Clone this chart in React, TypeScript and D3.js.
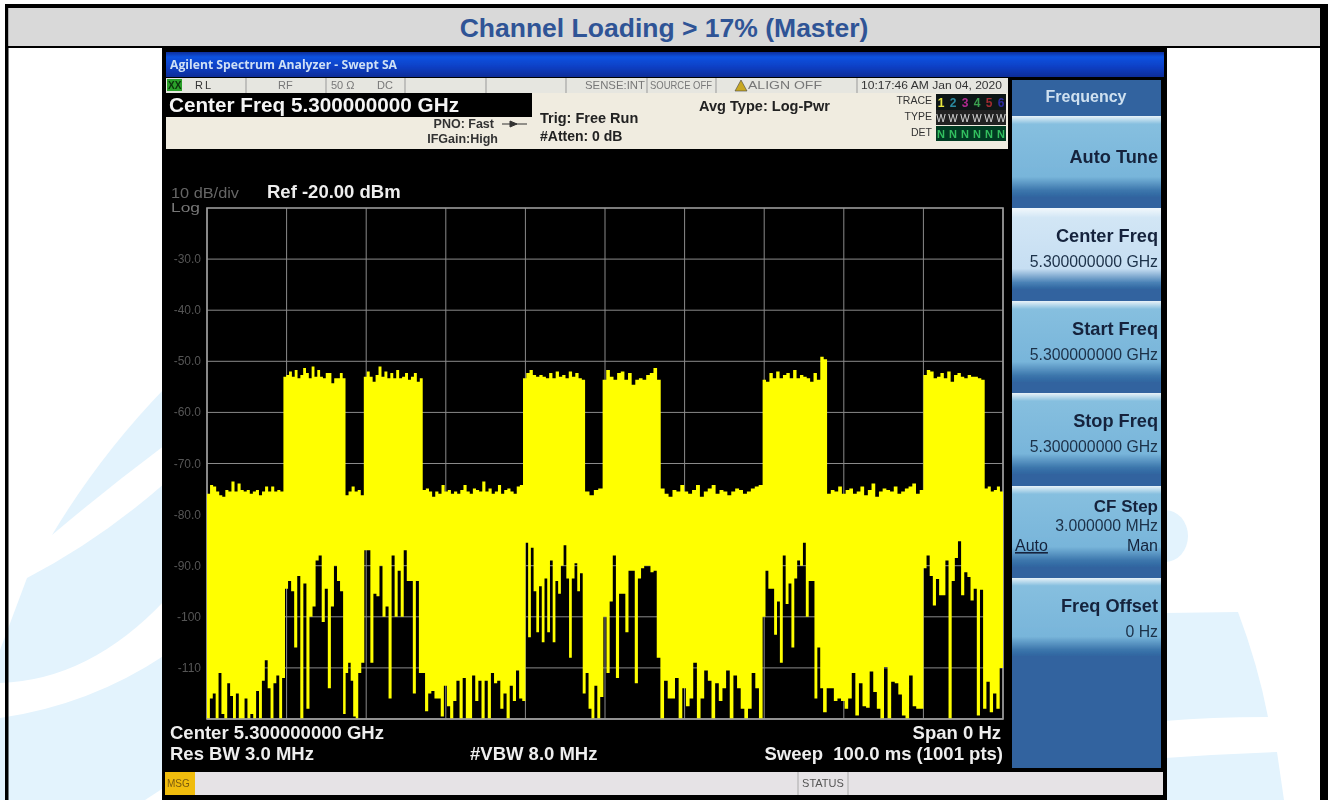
import React from "react";
import * as d3 from "d3";

const titleText = "Channel Loading > 17% (Master)";
const yTicks = [-30, -40, -50, -60, -70, -80, -90, -100, -110];
const yTickLabels = ["-30.0", "-40.0", "-50.0", "-60.0", "-70.0", "-80.0", "-90.0", "-100", "-110"];
const xGrid = [0, 10, 20, 30, 40, 50, 60, 70, 80, 90, 100];

// upper edge of the trace, dBm
const topGap0 = [-75.9, -74.2, -74.5, -75.5, -76.2, -76.5, -75.2, -75.5, -73.5, -75.5, -73.9, -75.2, -75.5, -75.2, -75.9, -75.5, -75.2, -76.2, -75.5, -74.5, -75.5, -74.5, -75.5, -75.2, -75.5];
const topBurst1 = [-53, -52.7, -52, -53, -51.7, -53.3, -52.7, -51.3, -52.3, -53.3, -51, -53, -51.7, -53, -53.3, -52.3, -52.3, -54.3, -53.3, -53.3, -52.3, -53.3];
const topGap1 = [-76.2, -75.5, -74.5, -75.5, -75.2, -76.2];
const topBurst2 = [-53, -52, -53, -54, -52.7, -51, -53, -52, -53.3, -52.3, -53.3, -51.7, -53.3, -53, -52.3, -53.6, -53, -52.3, -54, -53.3];
const topGap2 = [-75.2, -74.9, -75.5, -76.5, -75.5, -75.9, -74.2, -75.5, -75.2, -75.9, -75.5, -75.9, -75.2, -74.2, -75.5, -75.9, -74.9, -75.2, -75.5, -73.5, -75.5, -74.9, -75.9, -75.5, -74.2, -75.9, -75.2, -74.9, -75.5, -75.9, -74.5, -74.2];
const topBurst3 = [-53.3, -52.3, -51.7, -52.7, -53, -52.7, -53, -53.3, -52.3, -53.3, -52, -53, -52.7, -53.3, -52, -53, -52.3, -53.3, -53.6];
const topGap3 = [-75.5, -76.2, -75.2, -74.9];
const topBurst4 = [-53.6, -51.7, -53, -53.6, -52.3, -52, -53.6, -52.3, -54.6, -53.6, -53.3, -53.6, -52.7, -52.3, -51.3, -53.6];
const topGap4 = [-74.9, -75.9, -76.5, -75.2, -75.5, -74.2, -75.5, -75.9, -75.2, -74.2, -76.5, -75.5, -74.9, -74.2, -75.9, -75.2, -75.5, -76.2, -75.5, -74.9, -75.2, -75.9, -75.5, -74.9, -74.5, -74.2];
const topBurst5 = [-53.6, -54, -52.3, -53.3, -52, -53.3, -52.7, -52.3, -53.3, -51.7, -53.3, -52.7, -53, -53.3, -54, -52.3, -53.6, -49.1, -49.6];
const topGap5 = [-75.9, -75.2, -75.5, -74.5, -75.9, -75.2, -74.9, -75.9, -75.5, -74.5, -76.2, -75.2, -73.9, -76.5, -75.5, -74.9, -75.2, -75.5, -74.5, -75.9, -75.5, -74.9, -74.5, -73.9, -75.9, -75.2];
const topBurst6 = [-52.7, -51.7, -52, -53.3, -53, -52.3, -53.3, -52, -54, -52.7, -52.3, -53, -53.3, -52.7, -53, -53, -53.3, -53.6];
const topGap6 = [-74.9, -74.5, -75.5, -75.2, -74.5, -75.5];

// lower edge of the trace, dBm
const lowGap0 = [-120, -116, -115, -120, -111, -119, -120, -113, -115.5, -120, -115, -120, -120, -116, -120, -119, -120, -114.5, -120, -112.5, -108.5, -114, -120, -113, -111.5, -120, -112];
const lowBurst1 = [-94.5, -93, -95, -106, -92, -120, -93.5, -118, -100, -98, -89, -88, -101, -94.5, -114, -98, -90, -93, -95];
const lowGap1 = [-119, -111, -109, -112.5, -119.5, -120];
const lowBurst2 = [-111, -109, -87, -87, -109, -95.5, -96, -90, -100, -98, -116, -88, -100, -91, -100, -87, -93, -93, -115, -93, -111];
const lowGap2 = [-111, -118.5, -115, -114.5, -116, -116, -119.5, -113.5, -117.5, -120, -116.5, -112.5, -120, -112, -120, -120, -111.5, -116.5, -112.5, -120, -112.5, -120, -111, -113, -112.5, -118, -115, -120, -113.5, -116.5, -110.5, -116, -116.5];
const lowBurst3 = [-85.5, -104, -86.5, -95, -103, -94, -105, -92.5, -103, -89, -105, -93, -95.5, -90, -86, -92.5, -108, -92.5, -89.5, -95, -91.5];
const lowGap3 = [-115, -111, -118, -120, -113.5, -120];
const lowBurst4 = [-115.7, -100, -111, -97, -88, -112, -95.5, -95.5, -103, -91, -91, -113, -92.5, -90.5, -90, -90, -91.3, -91];
const lowGap4 = [-108, -120, -112.5, -116, -116, -112, -120, -114, -117.5, -116, -109, -120, -116, -110.5, -112.5, -120, -113, -116.5, -114, -110.5, -120, -111.5, -114, -118, -120, -118, -111, -114, -120];
const lowBurst5 = [-100, -91, -94.5, -94.5, -103.5, -97, -109, -88, -97.5, -93.5, -106, -92.5, -89, -90, -85.5, -100, -93, -93, -116, -106, -114];
const lowGap5 = [-118.7, -114, -114, -116.5, -116, -116.5, -118, -116, -111, -119.3, -113, -117.5, -117.8, -110.7, -114.7, -118, -120, -109.8, -120, -112.7, -113, -115.2, -119.3, -120, -111.5, -117.5, -118, -118];
const lowBurst6 = [-90.5, -88, -92, -97.8, -92.6, -95.8, -95.8, -89, -120, -93, -88.5, -85.2, -95.8, -91.3, -92.2, -96.8, -94.5, -119.3, -94.7];
const lowGap6 = [-118, -112.7, -118.7, -115, -118, -110];

const topSegments: [number, number, number[]][] = [
  [0, 9.6, topGap0], [9.6, 17.4, topBurst1], [17.4, 19.7, topGap1], [19.7, 27.1, topBurst2],
  [27.1, 39.7, topGap2], [39.7, 47.5, topBurst3], [47.5, 49.7, topGap3], [49.7, 57.0, topBurst4],
  [57.0, 69.8, topGap4], [69.8, 77.9, topBurst5], [77.9, 90, topGap5], [90, 97.7, topBurst6], [97.7, 100, topGap6],
];
const lowSegments: [number, number, number[]][] = [
  [0, 9.8, lowGap0], [9.8, 17.1, lowBurst1], [17.1, 19, lowGap1], [19, 27, lowBurst2],
  [27, 40, lowGap2], [40, 47.2, lowBurst3], [47.2, 49.4, lowGap3], [49.4, 56.5, lowBurst4],
  [56.5, 69.8, lowGap4], [69.8, 77.4, lowBurst5], [77.4, 90, lowGap5], [90, 97.5, lowBurst6], [97.5, 100, lowGap6],
];

const softKeys = [
  { label: "Auto Tune", value: "", selected: false },
  { label: "Center Freq", value: "5.300000000 GHz", selected: true },
  { label: "Start Freq", value: "5.300000000 GHz", selected: false },
  { label: "Stop Freq", value: "5.300000000 GHz", selected: false },
  { label: "CF Step", value: "3.000000 MHz", selected: false },
  { label: "Freq Offset", value: "0 Hz", selected: false },
];
const traceDigits = ["1", "2", "3", "4", "5", "6"];
const traceColors = ["#e8e840", "#2a8aa0", "#b02a90", "#3aa050", "#a02a30", "#2a2aa0"];

const expand = (segs: [number, number, number[]][]) => {
  const t: number[] = [];
  const v: number[] = [];
  segs.forEach(([a, b, vals]) => {
    vals.forEach((d, i) => {
      t.push(a + ((b - a) * i) / vals.length);
      v.push(d);
    });
  });
  return { t, v };
};

const x = d3.scaleLinear().domain([0, 100]).range([207, 1003]);
const y = d3.scaleLinear().domain([-20, -120]).range([208, 719]);

const topT = expand(topSegments);
const lowT = expand(lowSegments);
const allT = Array.from(new Set([...topT.t, ...lowT.t, 100])).sort((a, b) => a - b);
const lookup = (s: { t: number[]; v: number[] }, t: number) =>
  s.v[Math.min(s.v.length - 1, Math.max(0, d3.bisectRight(s.t, t + 1e-9) - 1))];
const tracePath = d3
  .area<number>()
  .x((t) => x(t))
  .y1((t) => y(lookup(topT, t)))
  .y0((t) => y(lookup(lowT, t)))
  .curve(d3.curveStepAfter)(allT) as string;

const SANS = "'Liberation Sans', Arial, sans-serif";

export default function App() {
  const keyTops = [116, 208, 301, 393, 486, 578];
  return (
    <svg width={1328} height={800} style={{ position: "fixed", left: 0, top: 0 }} fontFamily={SANS}>
      <defs>
        <linearGradient id="bar" x1="0" y1="0" x2="0" y2="1">
          <stop offset="0" stopColor="#0c2f9c" />
          <stop offset="0.2" stopColor="#0d52e0" />
          <stop offset="0.6" stopColor="#0a3fc4" />
          <stop offset="1" stopColor="#0a2c98" />
        </linearGradient>
        <linearGradient id="key" x1="0" y1="0" x2="0" y2="1">
          <stop offset="0" stopColor="#e8f2f8" />
          <stop offset="0.1" stopColor="#86bfdf" />
          <stop offset="0.75" stopColor="#78b5da" />
          <stop offset="0.92" stopColor="#3c76ac" />
          <stop offset="1" stopColor="#2f65a0" />
        </linearGradient>
        <linearGradient id="keySel" x1="0" y1="0" x2="0" y2="1">
          <stop offset="0" stopColor="#f2f8fc" />
          <stop offset="0.12" stopColor="#d2e6f5" />
          <stop offset="0.75" stopColor="#c6def2" />
          <stop offset="0.92" stopColor="#4a82b6" />
          <stop offset="1" stopColor="#2f65a0" />
        </linearGradient>
        <filter id="soft" x="-1%" y="-1%" width="102%" height="102%">
          <feGaussianBlur stdDeviation="0.55" />
        </filter>
      </defs>

      <rect width={1328} height={800} fill="#fff" />
      {/* background watermark */}
      <g fill="#e3f3fd">
        <path d="M52,535 Q100,455 165,388 L165,445 Q105,490 52,535Z" />
        <path d="M27,578 Q100,540 165,483 L165,600 Q90,680 0,683 L0,650Z" />
        <path d="M0,718 Q90,705 165,655 L165,787 L145,800 L0,800Z" />
        <path d="M1165,510 A23,26 0 0 1 1165,562Z" />
        <path d="M1165,613 L1238,612 Q1258,665 1268,717 Q1210,717 1165,721Z" />
        <path d="M1165,758 Q1220,754 1277,752 L1284,800 L1165,800Z" />
      </g>

      {/* page frame and title */}
      <rect x={5} y={4} width={1323} height={4} fill="#000" />
      <rect x={5} y={4} width={3.5} height={796} fill="#000" />
      <rect x={1320} y={4} width={8} height={796} fill="#000" />
      <rect x={8.5} y={8} width={1311.5} height={38} fill="#d9d9d9" />
      <rect x={5} y={46} width={1323} height={2} fill="#000" />
      <text x={664} y={37} textAnchor="middle" fontSize={26.5} fontWeight="bold" fill="#2f5496">{titleText}</text>

      {/* instrument screenshot */}
      <g filter="url(#soft)">
        <rect x={162} y={48} width={1005} height={752} fill="#000" />
        <rect x={166} y={52} width={998} height={25} fill="url(#bar)" />
        <text x={170} y={69} fontSize={12} fontWeight="bold" fill="#cfe0f5" fontFamily="'Open Sans', sans-serif" textLength={227} lengthAdjust="spacingAndGlyphs">Agilent Spectrum Analyzer - Swept SA</text>

        {/* status row */}
        <rect x={166} y={78} width={842} height={15} fill="#e6e6e0" />
        <rect x={167} y={79} width={15} height={12} fill="#2aa02a" />
        <text x={168} y={89} fontSize={10} fontWeight="bold" fill="#0a300a">XX</text>
        <text x={195} y={89} fontSize={11} fill="#333" letterSpacing={2}>RL</text>
        <text x={278} y={89} fontSize={11} fill="#777">RF</text>
        <text x={331} y={89} fontSize={11} fill="#777">50 Ω</text>
        <text x={377} y={89} fontSize={11} fill="#777">DC</text>
        {[246, 326, 405, 486, 566, 647, 716, 857].map((sx) => (
          <line key={sx} x1={sx} x2={sx} y1={78} y2={93} stroke="#999" strokeWidth={1} />
        ))}
        <text x={585} y={89} fontSize={11} fill="#777" textLength={60} lengthAdjust="spacingAndGlyphs">SENSE:INT</text>
        <text x={650} y={89} fontSize={11} fill="#777" textLength={62} lengthAdjust="spacingAndGlyphs">SOURCE OFF</text>
        <path d="M735,91 L741,80 L747,91Z" fill="#c8a820" stroke="#444" strokeWidth={0.6} />
        <text x={748} y={89} fontSize={11} fill="#777" textLength={74} lengthAdjust="spacingAndGlyphs">ALIGN OFF</text>
        <text x={861} y={89} fontSize={11.5} fill="#333" textLength={141} lengthAdjust="spacingAndGlyphs">10:17:46 AM Jan 04, 2020</text>

        {/* upper info panel */}
        <rect x={166} y={93} width={842} height={56} fill="#f0ece0" />
        <rect x={166} y={93} width={366} height={24} fill="#000" />
        <text x={169} y={112} fontSize={20.5} fontWeight="bold" fill="#f4f4f4" textLength={290} lengthAdjust="spacingAndGlyphs">Center Freq 5.300000000 GHz</text>
        <text x={494} y={128} textAnchor="end" fontSize={12.5} fontWeight="bold" fill="#333">PNO: Fast</text>
        <path d="M502,124 H527 M510,121 L517,124 L510,127Z" stroke="#333" fill="#333" strokeWidth={1} />
        <text x={498} y={143} textAnchor="end" fontSize={12.5} fontWeight="bold" fill="#333">IFGain:High</text>
        <text x={540} y={123} fontSize={14.5} fontWeight="bold" fill="#222">Trig: Free Run</text>
        <text x={540} y={141} fontSize={14} fontWeight="bold" fill="#222">#Atten: 0 dB</text>
        <text x={699} y={111} fontSize={14.5} fontWeight="bold" fill="#222" textLength={131} lengthAdjust="spacingAndGlyphs">Avg Type: Log-Pwr</text>
        <text x={932} y={104} textAnchor="end" fontSize={10.5} fill="#333">TRACE</text>
        <text x={932} y={120} textAnchor="end" fontSize={10.5} fill="#333">TYPE</text>
        <text x={932} y={136} textAnchor="end" fontSize={10.5} fill="#333">DET</text>
        <rect x={936} y={94} width={70} height={16} fill="#101818" />
        <rect x={936} y={110} width={70} height={15} fill="#222" />
        <rect x={936} y={126} width={70} height={15} fill="#063a20" />
        {traceDigits.map((d, i) => (
          <g key={d}>
            <text x={941 + i * 12} y={107} textAnchor="middle" fontSize={12} fontWeight="bold" fill={traceColors[i]}>{d}</text>
            <text x={941 + i * 12} y={122} textAnchor="middle" fontSize={10} fill="#ddd">W</text>
            <text x={941 + i * 12} y={138} textAnchor="middle" fontSize={11} fontWeight="bold" fill="#30c060">N</text>
          </g>
        ))}

        {/* plot labels */}
        <text x={171} y={198} fontSize={14} fill="#666" textLength={68} lengthAdjust="spacingAndGlyphs">10 dB/div</text>
        <text x={171} y={212} fontSize={13} fill="#777" textLength={29} lengthAdjust="spacingAndGlyphs">Log</text>
        <text x={267} y={198} fontSize={18.5} fontWeight="bold" fill="#eee">Ref -20.00 dBm</text>
        {yTicks.map((d, i) => (
          <text key={d} x={201} y={y(d) + 4} textAnchor="end" fontSize={12} fill="#555">{yTickLabels[i]}</text>
        ))}

        {/* grid */}
        {yTicks.map((d) => (
          <line key={d} x1={x(0)} x2={x(100)} y1={y(d)} y2={y(d)} stroke="#8a8a8a" strokeWidth={1} />
        ))}
        {xGrid.map((d) => (
          <line key={d} x1={x(d)} x2={x(d)} y1={y(-20)} y2={y(-120)} stroke="#8a8a8a" strokeWidth={1} />
        ))}
        <rect x={x(0)} y={y(-20)} width={x(100) - x(0)} height={y(-120) - y(-20)} fill="none" stroke="#9a9a9a" strokeWidth={1.6} />

        {/* trace */}
        <path d={tracePath} fill="#ffff00" />
        <line x1={x(0)} x2={x(100)} y1={y(-120)} y2={y(-120)} stroke="#9a9a9a" strokeWidth={1.6} />

        {/* footer */}
        <g fontWeight="bold" fontSize={18.5} fill="#eee">
          <text x={170} y={739}>Center 5.300000000 GHz</text>
          <text x={170} y={760}>Res BW 3.0 MHz</text>
          <text x={470} y={760}>#VBW 8.0 MHz</text>
          <text x={1001} y={739} textAnchor="end">Span 0 Hz</text>
          <text x={1003} y={760} textAnchor="end" style={{ whiteSpace: "pre" }}>Sweep  100.0 ms (1001 pts)</text>
        </g>

        {/* soft keys */}
        <rect x={1012} y={80} width={149} height={688} fill="#30649f" />
        <text x={1086} y={102} textAnchor="middle" fontSize={16} fontWeight="bold" fill="#cfe0f0">Frequency</text>
        {softKeys.map((k, i) => {
          const t = keyTops[i];
          const tall = k.label === "CF Step";
          return (
            <g key={k.label}>
              <rect x={1012} y={t} width={149} height={i === 5 ? 78 : 81} fill={`url(#${k.selected ? "keySel" : "key"})`} />
              <text x={1158} y={tall ? t + 26 : k.value ? t + 34 : t + 47} textAnchor="end" fontSize={tall ? 17 : 18.2} fontWeight="bold" fill="#14243c">{k.label}</text>
              {k.value && (
                <text x={1158} y={tall ? t + 45 : t + 59} textAnchor="end" fontSize={15.8} fill="#1c3048">{k.value}</text>
              )}
              {tall && (
                <>
                  <text x={1015} y={t + 65} fontSize={16} fill="#14243c" textDecoration="underline">Auto</text>
                  <text x={1158} y={t + 65} textAnchor="end" fontSize={16} fill="#14243c">Man</text>
                </>
              )}
            </g>
          );
        })}

        {/* bottom status */}
        <rect x={165} y={772} width={998} height={23} fill="#e6e3e6" />
        <rect x={165} y={772} width={30} height={23} fill="#f0bc10" />
        <text x={167} y={787} fontSize={10} fill="#7a5a10">MSG</text>
        <line x1={798} x2={798} y1={772} y2={795} stroke="#aaa" />
        <line x1={848} x2={848} y1={772} y2={795} stroke="#aaa" />
        <text x={823} y={787} textAnchor="middle" fontSize={11} fill="#555">STATUS</text>
      </g>
    </svg>
  );
}
